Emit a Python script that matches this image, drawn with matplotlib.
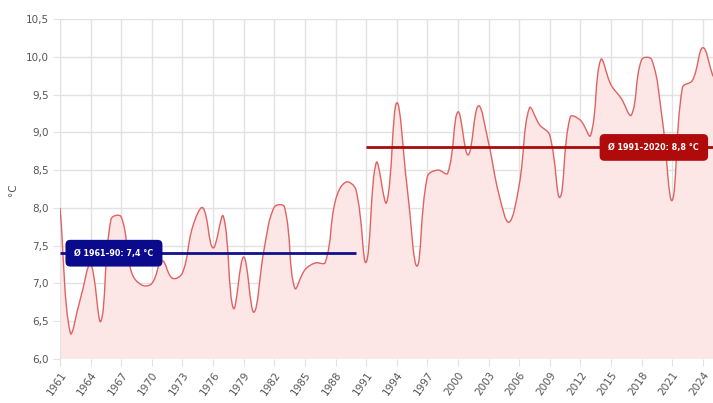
import numpy as np
import matplotlib
matplotlib.use("Agg")
import matplotlib.pyplot as plt
from matplotlib.path import Path
from matplotlib.patches import PathPatch

# Annual mean temperature (°C), 1961-2025
years = list(range(1961, 2026))
temps = [
    8.00, 6.35, 6.80, 7.25, 6.50, 7.85, 7.88, 7.15, 6.98, 7.00,
    7.30, 7.07, 7.14, 7.75, 8.00, 7.47, 7.89, 6.67, 7.35, 6.62,
    7.45, 8.01, 8.01, 6.94, 7.18, 7.27, 7.28, 8.10, 8.34, 8.24,
    7.28, 8.60, 8.07, 9.39, 8.30, 7.23, 8.41, 8.50, 8.46, 9.27,
    8.70, 9.35, 8.86, 8.19, 7.81, 8.30, 9.32, 9.10, 8.96, 8.14,
    9.20, 9.16, 8.96, 9.96, 9.63, 9.45, 9.23, 9.96, 9.96, 9.20,
    8.10, 9.59, 9.69, 10.12, 9.74,
]

# reference periods
ref_periods = [(1961, 1990), (1991, 2025)]
ref_means = [7.4, 8.8]
ref_labels = ["Ø 1961–90: 7,4 °C", "Ø 1991–2020: 8,8 °C"]
ref_colors = ["#10108f", "#a80c0c"]
box_colors = ["#0a0a8c", "#b00a0a"]

y_ticks = np.arange(6.0, 10.51, 0.5)
x_ticks = list(range(1961, 2025, 3))


def spline_path(x, y, sx, sy, tension=0.4):
    # bezier control points like a chart.js line with tension
    px = np.asarray(x, float) * sx
    py = np.asarray(y, float) * sy
    n = len(px)
    verts = [(x[0], y[0])]
    codes = [Path.MOVETO]
    cps = []
    for i in range(n):
        p0 = max(i - 1, 0)
        p2 = min(i + 1, n - 1)
        d01 = np.hypot(px[i] - px[p0], py[i] - py[p0])
        d12 = np.hypot(px[p2] - px[i], py[p2] - py[i])
        tot = d01 + d12 if d01 + d12 > 0 else 1
        fa = tension * d01 / tot
        fb = tension * d12 / tot
        dx = px[p2] - px[p0]
        dy = py[p2] - py[p0]
        cps.append(((px[i] - fa * dx, py[i] - fa * dy),
                    (px[i] + fb * dx, py[i] + fb * dy)))
    for i in range(1, n):
        c1 = cps[i - 1][1]
        c2 = cps[i][0]
        verts += [(c1[0] / sx, c1[1] / sy), (c2[0] / sx, c2[1] / sy), (x[i], y[i])]
        codes += [Path.CURVE4] * 3
    return verts, codes


fig = plt.figure(figsize=(7.13, 4.03), dpi=100)
ax = fig.add_axes([0.0842, 0.1092, 0.9158, 0.8437])

ax.set_xlim(1961, 2025)
ax.set_ylim(6.0, 10.5)

verts, codes = spline_path(years, temps, 10.2, 75.5)
line_path = Path(verts, codes)
fill_verts = verts + [(years[-1], 6.0), (years[0], 6.0), verts[0]]
fill_codes = codes + [Path.LINETO, Path.LINETO, Path.CLOSEPOLY]
ax.add_patch(PathPatch(Path(fill_verts, fill_codes), facecolor="#fde6e6",
                       edgecolor="none", zorder=1))
ax.add_patch(PathPatch(line_path, facecolor="none", edgecolor="#e06262",
                       lw=1.0, zorder=3))

for (a, b), m, c in zip(ref_periods, ref_means, ref_colors):
    ax.plot([a, b], [m, m], color=c, lw=2, zorder=4, solid_capstyle="butt")

box = "round,pad=1.1,rounding_size=0.6"
ax.text(1962.4, ref_means[0], ref_labels[0], color="white", fontsize=5.8,
        fontweight="bold", ha="left", va="center", zorder=5,
        bbox=dict(boxstyle=box, fc=box_colors[0], ec="none"))
ax.text(2023.65, ref_means[1], ref_labels[1], color="white", fontsize=5.8,
        fontweight="bold", ha="right", va="center", zorder=5,
        bbox=dict(boxstyle=box, fc=box_colors[1], ec="none"))

ax.set_yticks(y_ticks)
ax.set_yticklabels([f"{v:.1f}".replace(".", ",") for v in y_ticks])
ax.set_xticks(x_ticks)
ax.set_xticklabels([str(y) for y in x_ticks], rotation=55, ha="right",
                   rotation_mode="anchor")
ax.tick_params(axis="both", length=5, color="#e2e2e2", labelsize=7.5,
               labelcolor="#555555", pad=3)
ax.grid(True, color="#e2e2e2", lw=1, zorder=0)
ax.set_axisbelow(True)
for s in ax.spines.values():
    s.set_visible(False)
ax.spines["left"].set_visible(True)
ax.spines["left"].set_color("#e2e2e2")
ax.spines["top"].set_visible(True)
ax.spines["top"].set_color("#e2e2e2")

fig.text(0.018, 0.53, "°C", rotation=90, ha="center", va="center",
         fontsize=7.5, color="#555555")

fig.savefig("out.png", dpi=100)
